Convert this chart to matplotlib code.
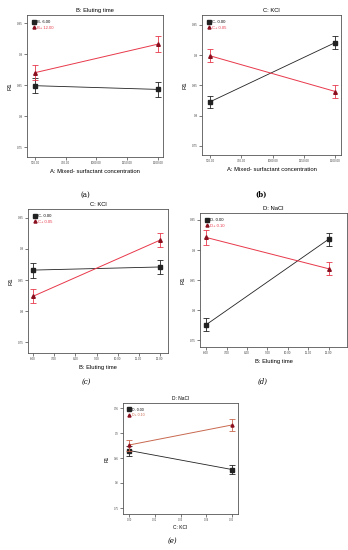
import matplotlib
matplotlib.use("Agg")
import matplotlib.pyplot as plt
from matplotlib.lines import Line2D

plt.rcParams['font.family'] = ['Liberation Sans', 'DejaVu Sans']

# ---------------- data ----------------
titles = ["B: Eluting time", "C: KCl", "C: KCl", "D: NaCl", "D: NaCl"]
xlabels = ["A: Mixed- surfactant concentration", "A: Mixed- surfactant concentration",
           "B: Eluting time", "B: Eluting time", "C: KCl"]
low_labels = ["B- 6.00", "C- 0.00", "C- 0.00", "D- 0.00", "D- 0.00"]
high_labels = ["B+ 12.00", "C+ 0.05", "C+ 0.05", "D+ 0.10", "D+ 0.10"]
panel_tags = ["(a)", "(b)", "(c)", "(d)", "(e)"]

x_levels = [[500, 1500], [500, 1500], [6, 12], [6, 12], [0.0, 0.05]]
x_ticks = [[500, 750, 1000, 1250, 1500],
           [500, 750, 1000, 1250, 1500],
           [6, 7, 8, 9, 10, 11, 12],
           [6, 7, 8, 9, 10, 11, 12],
           [0.0, 0.0125, 0.025, 0.0375, 0.05]]
x_ticklabels = [["500.00", "750.00", "1000.00", "1250.00", "1500.00"],
                ["500.00", "750.00", "1000.00", "1250.00", "1500.00"],
                ["6.00", "7.00", "8.00", "9.00", "10.00", "11.00", "12.00"],
                ["6.00", "7.00", "8.00", "9.00", "10.00", "11.00", "12.00"],
                ["0.00", "0.01", "0.03", "0.04", "0.05"]]
y_ticks = [0.75, 0.8, 0.85, 0.9, 0.95]
y_ticklabels = ["0.75", "0.8", "0.85", "0.9", "0.95"]

low_vals = [[0.849, 0.843], [0.823, 0.921], [0.866, 0.871], [0.776, 0.918], [0.865, 0.827]]
low_err = [[0.0125, 0.0125], [0.010, 0.010], [0.012, 0.011], [0.011, 0.011], [0.010, 0.009]]
high_vals = [[0.870, 0.916], [0.899, 0.840], [0.824, 0.914], [0.921, 0.869], [0.876, 0.916]]
high_err = [[0.0125, 0.0125], [0.011, 0.010], [0.011, 0.011], [0.012, 0.011], [0.011, 0.012]]

# ---------------- layout (pixels) ----------------
W, H = 348, 550
boxes = [(27, 163, 15, 157), (202, 341, 15, 155), (28, 168, 209, 353),
         (200, 347, 213, 347), (123, 238, 403, 514)]
xlims = [(435, 1541), (435, 1545), (5.76, 12.38), (5.7, 12.9), (-0.003, 0.053)]
ylims = [(0.734, 0.963), (0.735, 0.9665), (0.733, 0.964), (0.739, 0.9616), (0.738, 0.960)]
tag_pos = [(85, 195), (261, 195), (86, 382), (263, 382), (172, 541)]
tag_style = [dict(style='normal'), dict(weight='bold'), dict(style='italic'),
             dict(style='italic'), dict(style='italic')]
high_colors = ["#e8384a", "#e8384a", "#e8384a", "#e8384a", "#c8684e"]

fig = plt.figure(figsize=(W / 100, H / 100), dpi=100)
fig.patch.set_facecolor('white')

for i in range(5):
    l, r, t, b = boxes[i]
    ax = fig.add_axes([l / W, 1 - b / H, (r - l) / W, (b - t) / H])
    small = i == 4
    fs_t = 3.5 if small else 4.2
    fs_tick = 1.8 if small else 2.2
    hc = high_colors[i]
    ax.errorbar(x_levels[i], low_vals[i], yerr=low_err[i], color='#222222', lw=0.6,
                marker='s', ms=2.6 if small else 3.2, capsize=2.2, capthick=0.6, elinewidth=0.6,
                zorder=3)
    ax.errorbar(x_levels[i], high_vals[i], yerr=high_err[i], color=hc, lw=0.7,
                marker='^', ms=2.2 if small else 2.6, mfc='#8a1020', mec='#8a1020',
                ecolor=hc, capsize=2.2, capthick=0.6, elinewidth=0.6, zorder=4)
    ax.set_xlim(*xlims[i])
    ax.set_ylim(*ylims[i])
    ax.set_xticks(x_ticks[i])
    ax.set_xticklabels(x_ticklabels[i])
    ax.set_yticks(y_ticks)
    ax.set_yticklabels(y_ticklabels)
    ax.tick_params(labelsize=fs_tick, length=2, width=0.5, pad=1.2, colors='#444444')
    for s in ax.spines.values():
        s.set_linewidth(0.6)
        s.set_color('#555555')
    ax.set_title(titles[i], fontsize=fs_t, pad=2.5)
    ax.set_xlabel(xlabels[i], fontsize=fs_t, labelpad=1.5 if small else 2.5)
    ax.set_ylabel("R1", fontsize=fs_t, labelpad=3)
    handles = [Line2D([], [], color='#222222', marker='s', ls='none', ms=2.2),
               Line2D([], [], color='#8a1020', marker='^', ls='none', ms=2.2)]
    leg = ax.legend(handles, [low_labels[i], high_labels[i]], loc='upper left',
                    fontsize=2.6 if small else 3.0, frameon=False, handlelength=0.8,
                    handletextpad=0.4, borderaxespad=0.9, labelspacing=0.35)
    leg.get_texts()[1].set_color(hc)
    tx, ty = tag_pos[i]
    fig.text(tx / W, 1 - ty / H, panel_tags[i], ha='center', va='center',
             fontsize=5, family='DejaVu Serif', **tag_style[i])

fig.savefig("out.png", dpi=100, facecolor='white')
